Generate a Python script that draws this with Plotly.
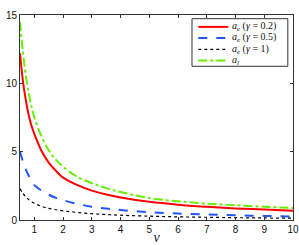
import plotly.graph_objects as go

nu = [0.5, 0.6, 0.7, 0.8, 0.9, 1.0, 1.25, 1.5, 1.75, 2.0, 2.5, 3.0, 3.5, 4.0, 5.0, 6.0, 7.0, 8.0, 9.0, 10.0]
a_e_02 = [12.2, 10.2, 8.8, 7.7, 6.9, 6.3, 5.05, 4.2, 3.6, 3.1, 2.55, 2.15, 1.87, 1.65, 1.33, 1.12, 0.97, 0.85, 0.76, 0.68]
a_e_05 = [5.0, 4.3, 3.7, 3.25, 2.88, 2.55, 2.15, 1.85, 1.62, 1.45, 1.18, 0.97, 0.84, 0.73, 0.57, 0.47, 0.40, 0.34, 0.30, 0.26]
a_e_1 = [2.3, 1.95, 1.7, 1.5, 1.35, 1.22, 1.0, 0.85, 0.75, 0.67, 0.55, 0.46, 0.40, 0.35, 0.28, 0.23, 0.20, 0.17, 0.15, 0.13]
a_l = [14.5, 12.3, 10.6, 9.3, 8.3, 7.5, 6.1, 5.1, 4.4, 3.9, 3.15, 2.7, 2.33, 2.05, 1.6, 1.37, 1.2, 1.08, 0.97, 0.88]

names = ["<i>a</i><sub><i>e</i></sub> (<i>γ</i> = 0.2)",
         "<i>a</i><sub><i>e</i></sub> (<i>γ</i> = 0.5)",
         "<i>a</i><sub><i>e</i></sub> (<i>γ</i> = 1)",
         "<i>a</i><sub><i>l</i></sub>"]
colors = ["#ff0000", "#2255ff", "#000000", "#66ee00"]
dashes = ["solid", "dash", "dot", "dashdot"]
widths = [2, 2, 1.2, 2]
series = [a_e_02, a_e_05, a_e_1, a_l]
x_ticks = [1, 2, 3, 4, 5, 6, 7, 8, 9, 10]
y_ticks = [0, 5, 10, 15]

fig = go.Figure()
for name, ys, c, d, w in zip(names, series, colors, dashes, widths):
    fig.add_trace(go.Scatter(x=nu, y=ys, mode="lines", name=name, showlegend=False,
                             line=dict(color=c, width=w, dash=d, shape="spline")))

axis_common = dict(showline=True, linecolor="#333333", linewidth=1, mirror="ticks",
                   ticks="inside", ticklen=3, tickcolor="#333333", showgrid=False,
                   zeroline=False, automargin=False,
                   tickfont=dict(family="Liberation Sans, Arial", size=10, color="#111111"))
fig.update_xaxes(range=[0.5, 10], tickvals=x_ticks, ticktext=[str(t) for t in x_ticks],
                 title=dict(text="<i>ν</i>", font=dict(family="Liberation Serif, Times New Roman", size=14, color="#111111"), standoff=2),
                 **axis_common)
fig.update_yaxes(range=[0, 15], tickvals=y_ticks, ticktext=[str(t) for t in y_ticks], **axis_common)

# Hand-built legend box (paper coordinates) to match compact original legend
box = dict(x0=0.630, x1=0.981, y0=0.750, y1=0.982)
fig.add_shape(type="rect", xref="paper", yref="paper", **box,
              line=dict(color="#333333", width=1), fillcolor="white", layer="above")
row_y = [0.942, 0.888, 0.832, 0.778]
for name, c, d, w, ry in zip(names, colors, dashes, widths, row_y):
    fig.add_shape(type="line", xref="paper", yref="paper", x0=0.653, x1=0.763, y0=ry, y1=ry,
                  line=dict(color=c, width=w, dash=d), layer="above")
    fig.add_annotation(xref="paper", yref="paper", x=0.768, y=ry, text=name, showarrow=False,
                       xanchor="left", yanchor="middle",
                       font=dict(family="Liberation Serif, Times New Roman", size=10, color="#111111"))

fig.update_layout(
    width=299, height=245,
    margin=dict(l=20, r=6, t=15, b=25),
    paper_bgcolor="white", plot_bgcolor="white",
    showlegend=False,
)
fig.write_html("out.html", config={"displayModeBar": False},
               post_script="document.body.style.margin='0';document.body.style.padding='0';")
